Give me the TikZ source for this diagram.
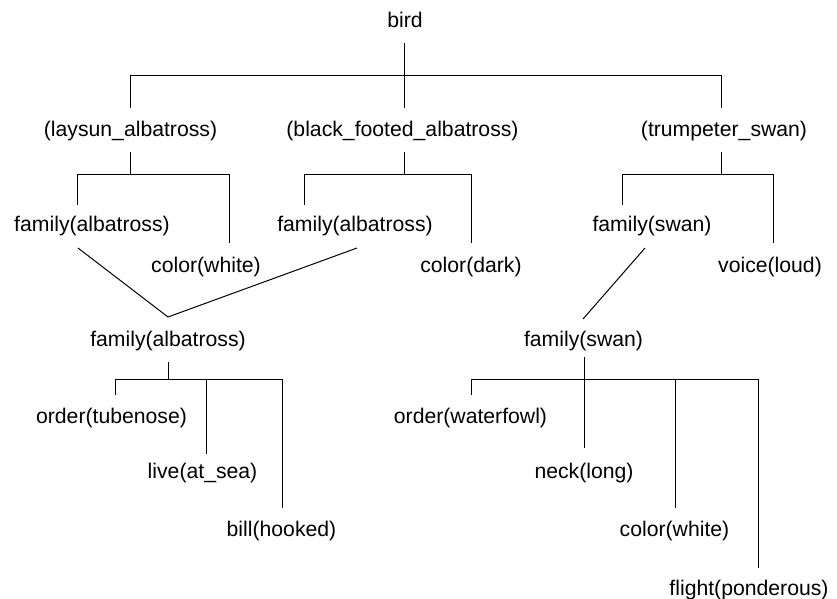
\documentclass[tikz,border=0pt]{standalone}
\usepackage{fontspec}
\setmainfont{Liberation Sans}
\begin{document}
\begin{tikzpicture}[x=1pt,y=-1pt,
  lbl/.style={inner sep=0pt, outer sep=0pt, anchor=base, font=\fontsize{21.2}{25}\selectfont},
  conn/.style={line width=1pt, black}]
\useasboundingbox (0,0) rectangle (837,599);

% ---- labels ----
\node[lbl] (bird)   at (405,28)  {bird};
\node[lbl] (lay)    at (130.5,136) {(laysun\_albatross)};
\node[lbl] (blk)    at (402.5,136) {(black\_footed\_albatross)};
\node[lbl] (trump)  at (724,136) {(trumpeter\_swan)};
\node[lbl] (famA1)  at (92,231)  {family(albatross)};
\node[lbl] (colW1)  at (206,272) {color(white)};
\node[lbl] (famA2)  at (355,231) {family(albatross)};
\node[lbl] (colD)   at (471,272) {color(dark)};
\node[lbl] (famS1)  at (652,231) {family(swan)};
\node[lbl] (voice)  at (770,272) {voice(loud)};
\node[lbl] (famA)   at (168,346) {family(albatross)};
\node[lbl] (famS)   at (583.5,346) {family(swan)};
\node[lbl] (ordT)   at (111.5,423) {order(tubenose)};
\node[lbl] (live)   at (202.5,478) {live(at\_sea)};
\node[lbl] (bill)   at (281.5,536) {bill(hooked)};
\node[lbl] (ordW)   at (470.5,423) {order(waterfowl)};
\node[lbl] (neck)   at (584,478) {neck(long)};
\node[lbl] (colW2)  at (674.5,536) {color(white)};
\node[lbl] (flight) at (749,595) {flight(ponderous)};

% ---- connector end points ----
\coordinate (birdB) at (404,43);
\coordinate (layT) at (130,108);  \coordinate (layB) at (130,152);
\coordinate (blkT) at (404,108);  \coordinate (blkB) at (404,152);
\coordinate (trT)  at (721,108);  \coordinate (trB)  at (721,152);
\coordinate (fa1T) at (77,205);   \coordinate (cw1T) at (229,243);
\coordinate (fa2T) at (304,205);  \coordinate (cdT)  at (471,243);
\coordinate (fs1T) at (622,205);  \coordinate (vcT)  at (773,243);
\coordinate (fa1B) at (78,248);   \coordinate (fa2B) at (357,248);
\coordinate (faT)  at (168,317);  \coordinate (faB)  at (168,362);
\coordinate (fs1B) at (645,248);  \coordinate (fsT)  at (583,319);
\coordinate (fsB)  at (584,357);
\coordinate (otT)  at (115,395);  \coordinate (lvT)  at (206,454);
\coordinate (blT)  at (282,508);
\coordinate (owT)  at (471,395);  \coordinate (nkT)  at (584,448);
\coordinate (cw2T) at (675,508);  \coordinate (flT)  at (758,568);

% ---- bird -> species ----
\draw[conn] (birdB) -- (blkT);
\draw[conn] (layT) |- (trT |- 0,76) -- (trT);

% ---- species -> attributes ----
\draw[conn] (layB) -- (130,174);
\draw[conn] (fa1T) |- (cw1T |- 0,174) -- (cw1T);
\draw[conn] (blkB) -- (404,174);
\draw[conn] (fa2T) |- (cdT |- 0,174) -- (cdT);
\draw[conn] (trB) -- (721,174);
\draw[conn] (fs1T) |- (vcT |- 0,174) -- (vcT);

% ---- merges into family nodes ----
\draw[conn] (fa1B) -- (faT) -- (fa2B);
\draw[conn] (fs1B) -- (fsT);

% ---- family(albatross) -> attributes ----
\draw[conn] (faB) -- (168,379);
\draw[conn] (otT) |- (blT |- 0,379) -- (blT);
\draw[conn] (lvT) -- (lvT |- 0,379);

% ---- family(swan) -> attributes ----
\draw[conn] (fsB) -- (nkT);
\draw[conn] (owT) |- (flT |- 0,379) -- (flT);
\draw[conn] (cw2T) -- (cw2T |- 0,379);
\end{tikzpicture}
\end{document}
